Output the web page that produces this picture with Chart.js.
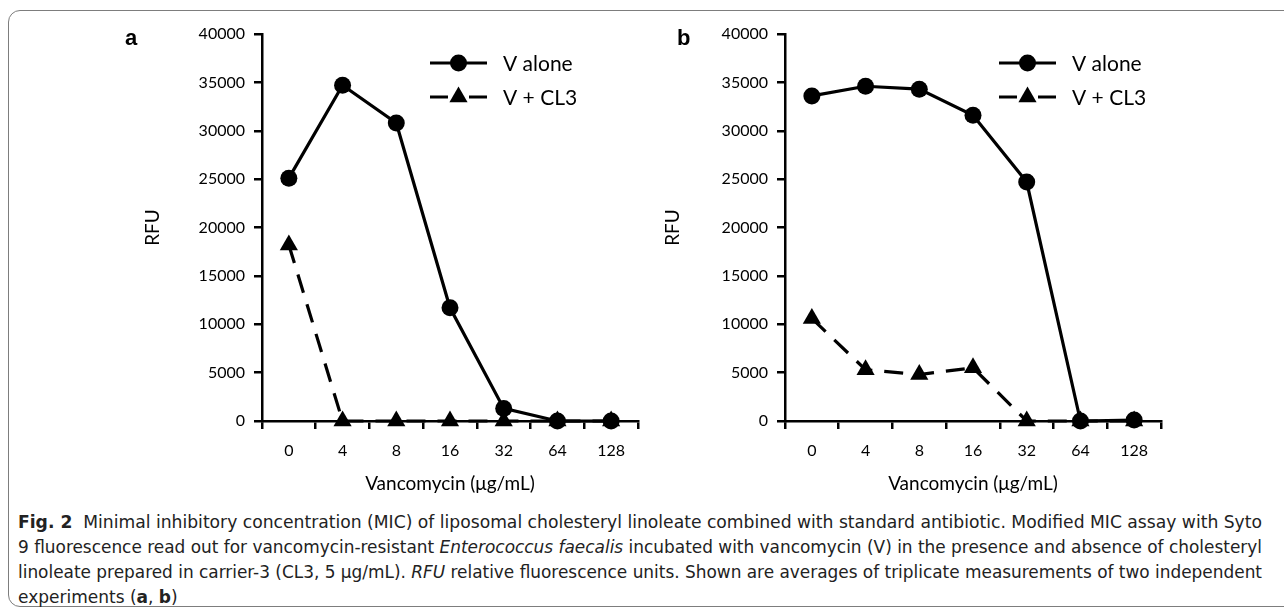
<!DOCTYPE html>
<html>
<head>
<meta charset="utf-8">
<script src="https://cdn.jsdelivr.net/npm/chart.js@4.4.0/dist/chart.umd.min.js"></script>
<style>
  body { margin: 0; background: #fff; width: 1284px; height: 611px; overflow: hidden; position: relative; }
  #frame { position: absolute; left: 8px; top: 10px; width: 1300px; height: 597px; border: 1.5px solid #7d7d7d; border-radius: 12px; box-sizing: border-box; }
  #ca { position: absolute; left: 0; top: 0; }
  #cb { position: absolute; left: 640px; top: 0; }
  .tag { position: absolute; font: bold 22px "Liberation Sans", Arial, sans-serif; color: #000; line-height: 1; }
  #caption { position: absolute; left: 18px; top: 510px; font-family: "Liberation Sans Narrow", "DejaVu Sans Condensed", sans-serif; font-size: 17px; color: #222; }
  #caption .ln { height: 25px; line-height: 25px; white-space: nowrap; transform-origin: 0 50%; display: block; width: max-content; }
</style>
</head>
<body>
<div id="frame"></div>
<canvas id="ca" width="660" height="500"></canvas>
<canvas id="cb" width="644" height="500"></canvas>
<div class="tag" style="left:125px;top:27px">a</div>
<div class="tag" style="left:677px;top:27px">b</div>
<div id="caption">
  <span class="ln"><b>Fig. 2</b>&nbsp; Minimal inhibitory concentration (MIC) of liposomal cholesteryl linoleate combined with standard antibiotic. Modified MIC assay with Syto</span>
  <span class="ln">9 fluorescence read out for vancomycin-resistant <i>Enterococcus faecalis</i> incubated with vancomycin (V) in the presence and absence of cholesteryl</span>
  <span class="ln">linoleate prepared in carrier-3 (CL3, 5 μg/mL). <i>RFU</i> relative fluorescence units. Shown are averages of triplicate measurements of two independent</span>
  <span class="ln">experiments (<b>a</b>, <b>b</b>)</span>
</div>
<script>
// ===== DATA =====
const categories = ["0", "4", "8", "16", "32", "64", "128"];
const seriesNames = ["V alone", "V + CL3"];
const aAlone = [25100, 34700, 30800, 11700, 1300, 0, 0];
const aCl3 = [18200, 0, 0, 0, 0, 0, 0];
const bAlone = [33600, 34600, 34300, 31600, 24700, 0, 100];
const bCl3 = [10600, 5300, 4800, 5500, 0, 0, 0];
const yTicks = [0, 5000, 10000, 15000, 20000, 25000, 30000, 35000, 40000];

const FONT = "Lato, 'Open Sans', sans-serif";

// legend drawn as line + marker, like the original
const lineLegend = {
  id: "lineLegend",
  afterDraw(chart, args, o) {
    const ctx = chart.ctx;
    chart.data.datasets.forEach((ds, i) => {
      const y = o.y + i * o.gap;
      ctx.save();
      ctx.strokeStyle = "#000";
      ctx.lineWidth = ds.borderWidth;
      ctx.beginPath();
      if (ds.borderDash) {
        ctx.moveTo(o.x, y); ctx.lineTo(o.x + 18, y);
        ctx.moveTo(o.x + o.len - 18, y); ctx.lineTo(o.x + o.len, y);
      } else {
        ctx.moveTo(o.x, y); ctx.lineTo(o.x + o.len, y);
      }
      ctx.stroke();
      ctx.fillStyle = "#000";
      Chart.helpers.drawPoint(ctx, { pointStyle: ds.pointStyle, radius: ds.pointRadius, borderWidth: 0, rotation: 0 }, o.x + o.len / 2, y);
      ctx.font = "21px " + FONT;
      ctx.textBaseline = "middle";
      ctx.fillText(ds.label, o.x + o.len + 16, y + 1);
      ctx.restore();
    });
  }
};

function makeChart(id, alone, cl3, o) {
  return new Chart(document.getElementById(id), {
    type: "line",
    data: {
      labels: categories,
      datasets: [
        {
          label: seriesNames[0], data: alone,
          borderColor: "#000", backgroundColor: "#000", borderWidth: 3.2,
          pointStyle: "circle", pointRadius: 8.5, pointBorderWidth: 0,
          tension: 0, clip: false
        },
        {
          label: seriesNames[1], data: cl3,
          borderColor: "#000", backgroundColor: "#000", borderWidth: 3.2, borderDash: [19, 12],
          pointStyle: "triangle", pointRadius: 10.5, pointBorderWidth: 0,
          tension: 0, clip: false
        }
      ]
    },
    options: {
      responsive: false,
      animation: false,
      devicePixelRatio: 1,
      events: [],
      layout: { padding: { top: 34, left: o.padLeft, right: o.padRight, bottom: 5 } },
      plugins: {
        legend: { display: false },
        tooltip: { enabled: false },
        lineLegend: o.legend
      },
      scales: {
        x: {
          offset: true,
          ticks: { color: "#000", font: { family: FONT, size: 16 }, padding: 12 },
          grid: { offset: true, drawOnChartArea: false, color: "#000", lineWidth: 2.5, tickLength: 8 },
          border: { color: "#000", width: 2.5 },
          title: { display: true, text: "Vancomycin (μg/mL)", color: "#000", font: { family: FONT, size: 19 }, padding: 0 },
          afterFit: s => { s.height = 74; }
        },
        y: {
          min: 0, max: 40000,
          afterBuildTicks: s => { s.ticks = yTicks.map(v => ({ value: v })); },
          ticks: { color: "#000", font: { family: FONT, size: 16 }, padding: 9, callback: v => String(v) },
          grid: { drawOnChartArea: false, color: "#000", lineWidth: 2.5, tickLength: 8 },
          border: { color: "#000", width: 2.5 },
          title: { display: true, text: "RFU", color: "#000", font: { family: FONT, size: 19 }, padding: 0 },
          afterFit: s => { s.width = o.yWidth; }
        }
      }
    },
    plugins: [lineLegend]
  });
}

makeChart("ca", aAlone, aCl3, { padLeft: 141, yWidth: 121, padRight: 22, legend: { x: 430, y: 63, gap: 34, len: 57 } });
makeChart("cb", bAlone, bCl3, { padLeft: 21, yWidth: 124, padRight: 123, legend: { x: 359, y: 63, gap: 34, len: 57 } });

// stretch caption lines to the justified width of the original
const lines = document.querySelectorAll("#caption .ln");
let f = [];
lines.forEach((el, i) => {
  if (i < 3) {
    const k = 1244 / el.getBoundingClientRect().width;
    f.push(k);
    el.style.transform = "scaleX(" + k + ")";
  }
});
lines[3].style.transform = "scaleX(" + (f.reduce((a, b) => a + b, 0) / f.length) + ")";
</script>
</body>
</html>
